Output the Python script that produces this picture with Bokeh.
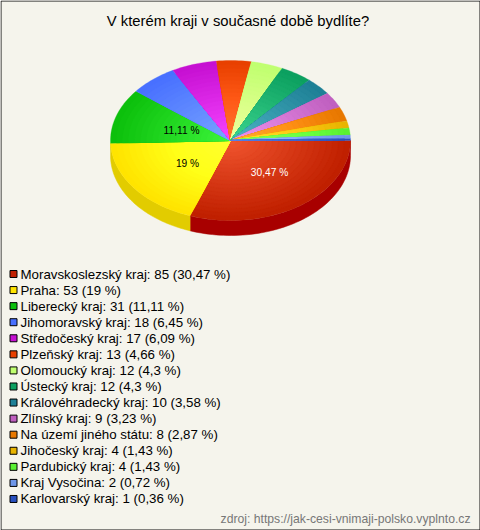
import math
from bokeh.plotting import figure
from bokeh.models import Range1d
from bokeh.core.properties import value
from bokeh.embed import file_html
from bokeh.resources import INLINE

title = "V kterém kraji v současné době bydlíte?"
source = "zdroj: https://jak-cesi-vnimaji-polsko.vyplnto.cz"
names = ["Moravskoslezský kraj", "Praha", "Liberecký kraj", "Jihomoravský kraj", "Středočeský kraj",
         "Plzeňský kraj", "Olomoucký kraj", "Ústecký kraj", "Královéhradecký kraj", "Zlínský kraj",
         "Na území jiného státu", "Jihočeský kraj", "Pardubický kraj", "Kraj Vysočina", "Karlovarský kraj"]
counts = [85, 53, 31, 18, 17, 13, 12, 12, 10, 9, 8, 4, 4, 2, 1]
percents = ["30,47", "19", "11,11", "6,45", "6,09", "4,66", "4,3", "4,3", "3,58", "3,23", "2,87", "1,43", "1,43", "0,72", "0,36"]
colors = [(192, 32, 0), (255, 228, 0), (12, 192, 12), (72, 112, 255), (198, 16, 210),
          (232, 64, 0), (192, 255, 112), (12, 160, 96), (30, 128, 150), (192, 96, 192),
          (232, 120, 0), (232, 180, 0), (90, 240, 50), (110, 150, 232), (40, 80, 190)]
side_colors = {0: (168, 0, 0), 1: (226, 204, 0)}
labelled = {0: ("white", 269, 172), 1: ("black", 187, 163), 2: ("black", 181, 130)}

W, H = 480, 530
CX, CY, RX, RY, DEPTH = 230.0, 140.0, 120.0, 80.0, 15.0
BG = "#F5F4EC"
FONT = value("Liberation Sans")

p = figure(width=W, height=H, x_range=Range1d(0, W), y_range=Range1d(H, 0),
           toolbar_location=None, output_backend="svg", min_border=0,
           background_fill_color=BG, border_fill_color=BG, outline_line_color=None)
p.axis.visible = False
p.grid.visible = False

def hexc(c):
    return "#%02x%02x%02x" % tuple(int(max(0, min(255, v))) for v in c)

total = sum(counts)
angles = [0.0]
for c in counts:
    angles.append(angles[-1] + 2 * math.pi * c / total)

# side wall of the front half
for i, col in side_colors.items():
    a0, a1 = angles[i], min(angles[i + 1], math.pi)
    n = 60
    ts = [a0 + (a1 - a0) * k / n for k in range(n + 1)]
    xs = [CX + RX * math.cos(t) for t in ts]
    ys = [CY + RY * math.sin(t) for t in ts]
    xs2 = xs + xs[::-1]
    ys2 = ys + [y + DEPTH for y in ys[::-1]]
    p.patch(xs2, ys2, fill_color=hexc(col), line_color=hexc(col), line_width=0.5)

# top face: radial shading from light centre to darker rim
RINGS = 20
LIGHT = (48, 52, 46)
for i in range(len(counts)):
    a0, a1 = angles[i], angles[i + 1]
    n = max(3, int((a1 - a0) * 40))
    ts = [a0 + (a1 - a0) * k / n for k in range(n + 1)]
    xss, yss, fills = [], [], []
    for r in range(RINGS):
        f = 1 - r / RINGS
        xss.append([CX] + [CX + f * RX * math.cos(t) for t in ts])
        yss.append([CY] + [CY + f * RY * math.sin(t) for t in ts])
        g = r / (RINGS - 1)
        fills.append(hexc([colors[i][k] + LIGHT[k] * g for k in range(3)]))
    p.patches(xss, yss, fill_color=fills, line_color=fills, line_width=0.3)

# slice labels
for i, (col, x, y) in labelled.items():
    p.text([x], [y], text=[percents[i] + " %"], text_color=col, text_font=FONT,
           text_font_size="10.2px", text_align="center", text_baseline="middle")

# title and source
p.text([237.5], [20], text=[title], text_color="#000000", text_font=FONT, text_font_size="14.8px",
       text_align="center", text_baseline="middle")
p.text([470], [518], text=[source], text_color="#777777", text_font=FONT, text_font_size="12.2px",
       text_align="right", text_baseline="middle")

# legend
ROW0, STEP = 273.5, 16.07
rows = [ROW0 + STEP * i for i in range(len(names))]
labels = [f"{n}: {c} ({q} %)" for n, c, q in zip(names, counts, percents)]
p.rect([13] * len(rows), rows, width=7, height=7, fill_color=[hexc(c) for c in colors],
       line_color="#000000", line_width=1)
p.text([20] * len(rows), rows, text=labels, text_color="#000000", text_font=FONT,
       text_font_size="13.3px", text_align="left", text_baseline="middle")

# frame
p.line([0.5, 0.5, W - 0.5, W - 0.5, 0.5], [0.5, H - 0.5, H - 0.5, 0.5, 0.5], line_color="#111111", line_width=1)

html = file_html(p, INLINE)
html = html.replace("<head>", "<head><style>html,body{margin:0;padding:0;overflow:hidden}</style>", 1)
open("out.html", "w").write(html)
